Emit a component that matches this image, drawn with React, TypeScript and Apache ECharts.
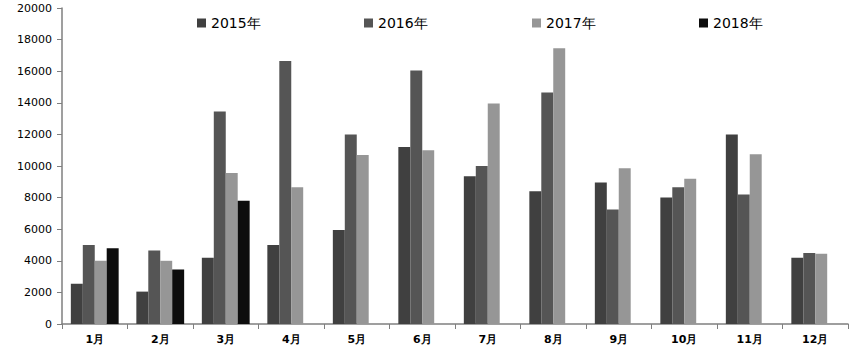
import React, { useEffect, useRef } from "react";
import * as echarts from "echarts";

const months = ["1月", "2月", "3月", "4月", "5月", "6月", "7月", "8月", "9月", "10月", "11月", "12月"];
const s2015 = [2550, 2050, 4200, 5000, 5950, 11200, 9350, 8400, 8950, 8000, 12000, 4200];
const s2016 = [5000, 4650, 13450, 16650, 12000, 16050, 10000, 14650, 7250, 8650, 8200, 4500];
const s2017 = [4000, 4000, 9550, 8650, 10700, 11000, 13950, 17450, 9850, 9200, 10750, 4450];
const s2018 = [4800, 3450, 7800, null, null, null, null, null, null, null, null, null];
const seriesNames = ["2015年", "2016年", "2017年", "2018年"];
const colors = ["#404040", "#555555", "#969696", "#0d0d0d"];
const legendLefts = [192, 359, 527, 694];

export default function App() {
  const ref = useRef<HTMLDivElement>(null);
  useEffect(() => {
    if (!ref.current) return;
    const chart = echarts.init(ref.current, null, { renderer: "svg" });
    const data = [s2015, s2016, s2017, s2018];
    chart.setOption({
      animation: false,
      color: colors,
      grid: { left: 62, right: 6, top: 8, bottom: 27, containLabel: false },
      legend: seriesNames.map((n, i) => ({
        left: legendLefts[i],
        top: 11,
        itemWidth: 9,
        itemHeight: 9,
        itemGap: 5,
        icon: "rect",
        data: [n],
        textStyle: { fontSize: 14, color: "#000", fontFamily: "DejaVu Sans" },
      })),
      xAxis: {
        type: "category",
        data: months,
        axisLine: { lineStyle: { color: "#7f7f7f", width: 1.5 } },
        axisTick: { show: true, length: 5, lineStyle: { color: "#7f7f7f" } },
        axisLabel: { fontSize: 11, fontWeight: "bold", color: "#000", margin: 10, fontFamily: "DejaVu Sans" },
      },
      yAxis: {
        type: "value",
        min: 0,
        max: 20000,
        interval: 2000,
        axisLine: { show: true, lineStyle: { color: "#7f7f7f", width: 1.5 } },
        axisTick: { show: true, length: 5, lineStyle: { color: "#7f7f7f" } },
        splitLine: { show: false },
        axisLabel: { fontSize: 11, color: "#000", margin: 10, fontFamily: "DejaVu Sans", formatter: (v: number) => String(v) },
      },
      series: data.map((d, i) => ({
        name: seriesNames[i],
        type: "bar",
        data: d,
        barGap: "0%",
        barCategoryGap: "27%",
        itemStyle: { color: colors[i] },
      })),
    });
    return () => chart.dispose();
  }, []);
  return <div ref={ref} style={{ width: 854, height: 351, position: "absolute", left: 0, top: 0 }} />;
}
